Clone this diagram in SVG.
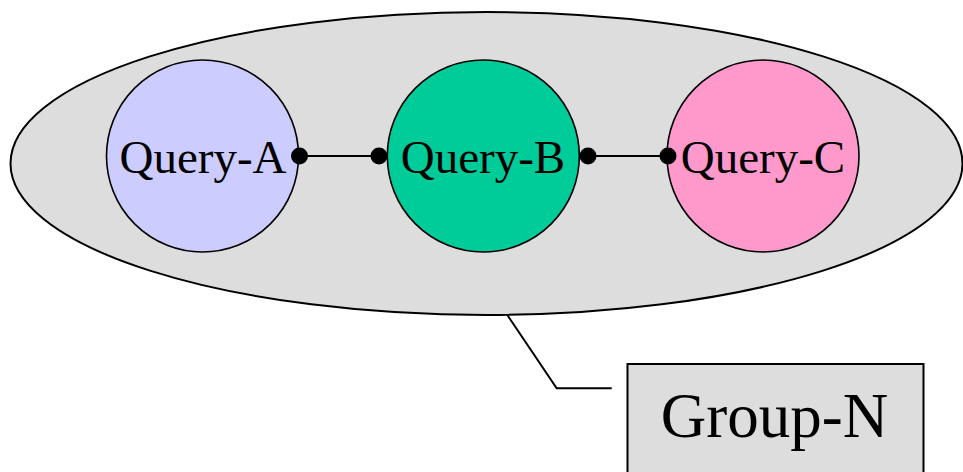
<svg xmlns="http://www.w3.org/2000/svg" width="963" height="472" viewBox="0 0 963 472">
<style>
.q{stroke:#000;stroke-width:1.6}
.t{font-family:"Liberation Serif","Times New Roman",serif;fill:#000;text-anchor:middle}
.c{stroke:#000;stroke-width:2;fill:none}
.d{fill:#000}
</style>
<rect width="963" height="472" fill="#fff"/>
<g id="group-n-region">
<ellipse cx="486.5" cy="163.5" rx="476" ry="151.5" fill="#DDDDDD" stroke="#000" stroke-width="2"/>
</g>
<g id="query-a">
<circle class="q" cx="202.5" cy="156" r="96" fill="#CCCCFF"/>
<text class="t" x="203" y="173" font-size="47">Query-A</text>
</g>
<g id="query-b">
<circle class="q" cx="483.3" cy="156" r="96" fill="#00CC99"/>
<text class="t" x="483" y="173" font-size="47">Query-B</text>
</g>
<g id="query-c">
<circle class="q" cx="763" cy="156" r="96" fill="#FF99CC"/>
<text class="t" x="763" y="173" font-size="47">Query-C</text>
</g>
<g id="group-n-label">
<rect x="627.5" y="364" width="296" height="120" fill="#DDDDDD" stroke="#000" stroke-width="2"/>
<text class="t" x="774.5" y="437" font-size="63">Group-N</text>
</g>
<g id="connectors">
<line class="c" x1="299.5" y1="156" x2="379" y2="156"/>
<circle class="d" cx="299.5" cy="156" r="8.5"/>
<circle class="d" cx="379" cy="156" r="8.5"/>
<line class="c" x1="588" y1="156" x2="668" y2="156"/>
<circle class="d" cx="588" cy="156" r="8.5"/>
<circle class="d" cx="668" cy="156" r="8.5"/>
<polyline class="c" points="507.3,315 556.7,388.3 611.7,388.3"/>
</g>
</svg>
